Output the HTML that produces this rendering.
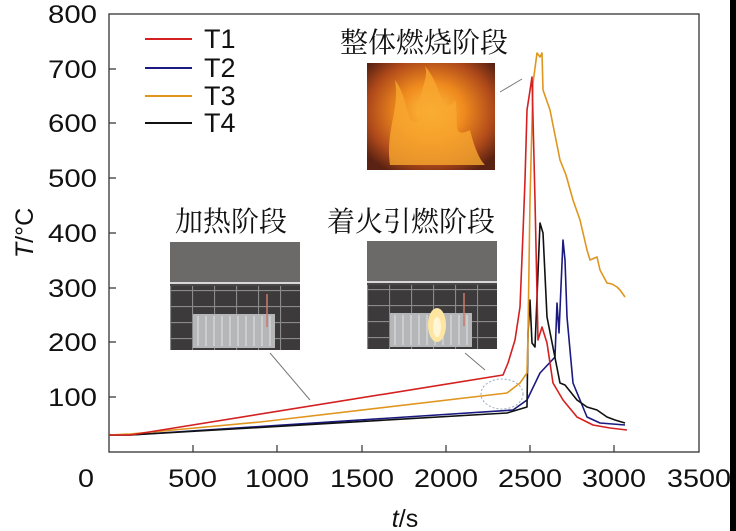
<!DOCTYPE html>
<html><head><meta charset="utf-8"><style>
html,body{margin:0;padding:0;background:#fff;}
svg{display:block;}
text{font-family:"Liberation Sans",sans-serif;}
.cn{font-family:"Liberation Serif","Noto Serif CJK SC",serif;font-size:28px;fill:#111;}
</style></head><body>
<svg width="736" height="531" viewBox="0 0 736 531" xmlns="http://www.w3.org/2000/svg">
<defs>
<radialGradient id="fl" cx="0.5" cy="0.45" r="0.65">
<stop offset="0" stop-color="#ffc040"/><stop offset="0.4" stop-color="#ef8a1e"/><stop offset="0.75" stop-color="#b04a1a"/><stop offset="1" stop-color="#5a2212"/>
</radialGradient>
<pattern id="grid" width="22" height="16" patternUnits="userSpaceOnUse">
<rect width="22" height="16" fill="#3c3a3b"/><path d="M0 0.5H22M0.5 0V16" stroke="#8a8a8a" stroke-width="1.2"/>
</pattern>
<g id="photo">
<rect x="0" y="0" width="130" height="108" fill="#4a4849"/>
<rect x="0" y="0" width="130" height="40" fill="#6b6a69"/>
<rect x="0" y="40" width="130" height="2" fill="#d8d8d8"/>
<rect x="0" y="44" width="130" height="64" fill="url(#grid)"/>
<rect x="23" y="72" width="82" height="34" fill="#b4b6b8"/>
<path d="M28 74V104M36 74V104M44 74V104M52 74V104M60 74V104M68 74V104M76 74V104M84 74V104M92 74V104M100 74V104" stroke="#e4e4e4" stroke-width="1"/>
<path d="M97 52V85" stroke="#c97a6a" stroke-width="1.5"/>
</g>
</defs>
<rect x="730" y="0" width="6" height="531" fill="#000"/>
<rect x="109" y="14" width="590" height="438" fill="none" stroke="#333" stroke-width="1.3"/>
<g stroke="#333" stroke-width="1.2">
<path d="M193 452v-7M277 452v-7M362 452v-7M446 452v-7M530 452v-7M614 452v-7"/>
<path d="M109 397h7M109 342h7M109 288h7M109 233h7M109 178h7M109 123h7M109 69h7"/>
</g>
<g font-size="25" fill="#111" lengthAdjust="spacingAndGlyphs">
<text x="48" y="23" textLength="49" lengthAdjust="spacingAndGlyphs">800</text>
<text x="48" y="78" textLength="49" lengthAdjust="spacingAndGlyphs">700</text>
<text x="48" y="132" textLength="49" lengthAdjust="spacingAndGlyphs">600</text>
<text x="48" y="187" textLength="49" lengthAdjust="spacingAndGlyphs">500</text>
<text x="48" y="242" textLength="49" lengthAdjust="spacingAndGlyphs">400</text>
<text x="48" y="297" textLength="49" lengthAdjust="spacingAndGlyphs">300</text>
<text x="48" y="351" textLength="49" lengthAdjust="spacingAndGlyphs">200</text>
<text x="48" y="406" textLength="49" lengthAdjust="spacingAndGlyphs">100</text>
</g>
<g font-size="25" fill="#111">
<text x="78" y="487" textLength="16" lengthAdjust="spacingAndGlyphs">0</text>
<text x="168" y="487" textLength="49" lengthAdjust="spacingAndGlyphs">500</text>
<text x="245" y="487" textLength="64" lengthAdjust="spacingAndGlyphs">1000</text>
<text x="330" y="487" textLength="64" lengthAdjust="spacingAndGlyphs">1500</text>
<text x="414" y="487" textLength="64" lengthAdjust="spacingAndGlyphs">2000</text>
<text x="498" y="487" textLength="64" lengthAdjust="spacingAndGlyphs">2500</text>
<text x="582" y="487" textLength="64" lengthAdjust="spacingAndGlyphs">3000</text>
<text x="667" y="487" textLength="64" lengthAdjust="spacingAndGlyphs">3500</text>
</g>
<text x="405" y="527" font-size="25" text-anchor="middle" fill="#111"><tspan font-style="italic">t</tspan>/s</text>
<text transform="translate(33,233) rotate(-90)" font-size="25" text-anchor="middle" fill="#111"><tspan font-style="italic">T</tspan>/°C</text>
<g stroke-width="2">
<path d="M145 39h47" stroke="#d42020"/><path d="M145 68h47" stroke="#1a1a80"/>
<path d="M145 96h47" stroke="#e0951e"/><path d="M145 123h47" stroke="#111"/>
</g>
<g font-size="27" fill="#111">
<text x="204" y="48">T1</text><text x="204" y="77">T2</text><text x="204" y="105">T3</text><text x="204" y="132">T4</text>
</g>
<text class="cn" x="340" y="52">整体燃烧阶段</text>
<rect x="367" y="63" width="128" height="107" fill="url(#fl)"/>
<g fill="#f7a830" opacity="0.8">
<path d="M390 165C385 130 400 110 395 80C410 100 405 130 420 120C415 95 430 80 425 66C445 90 440 120 455 100C460 120 450 140 470 130C475 150 480 160 485 165Z"/>
</g>
<text class="cn" x="175" y="231">加热阶段</text>
<text class="cn" x="327" y="231">着火引燃阶段</text>
<use href="#photo" x="170" y="242"/>
<use href="#photo" x="367" y="241"/>
<ellipse cx="437" cy="325" rx="9" ry="17" fill="#ffe6a0"/>
<ellipse cx="437" cy="327" rx="4" ry="10" fill="#fff6d8"/>
<g stroke="#777" stroke-width="1" fill="none">
<path d="M270 353L310 400M465 353L485 370M500 92L522 79"/>
<ellipse cx="502" cy="394" rx="21" ry="15" stroke-dasharray="2 2" stroke="#9ab"/>
</g>
<g fill="none" stroke-width="1.6" stroke-linejoin="round">
<path stroke="#1a1a80" d="M109 435L130 435L513 410L527 400L540 373L555 357L557 303L559 333L563 240L565 260L567 317L573 383L587 417L600 423L625 425"/>
<path stroke="#111" d="M109 435L130 435L507 413L527 407L528 333L530 300L532 343L535 347L540 223L543 233L547 317L560 383L565 385L577 400L587 407L597 410L607 417L615 420L625 423"/>
<path stroke="#e0951e" d="M109 435L130 434L260 422L507 393L520 383L527 373L528 333L530 200L533 83L537 53L540 57L542 53L543 90L550 110L560 160L566 175L573 200L580 220L587 250L590 260L597 257L600 270L607 283L612 284L617 287L620 290L625 297"/>
<path stroke="#d42020" d="M109 435L130 435L143 433L503 375L508 363L515 340L520 307L523 233L525 180L527 110L529 97L532 77L535 200L538 340L542 327L547 343L553 383L563 400L577 417L593 425L610 428L627 430"/>
</g>
</svg>
</body></html>
